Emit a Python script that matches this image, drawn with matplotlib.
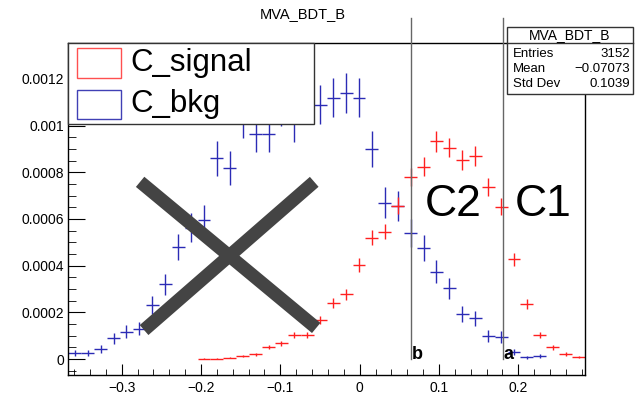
import numpy as np
import matplotlib.pyplot as plt
from matplotlib.patches import Rectangle
from matplotlib.ticker import MultipleLocator

plt.rcParams['font.family'] = ['Liberation Sans', 'DejaVu Sans']

# 40 bins between the BDT output min and max
x_lo, x_hi, nbins = -0.3673, 0.2841, 40

bkg = [0.000025, 0.000025, 0.0000415, 0.000089, 0.000117, 0.00013, 0.000232, 0.00032,
       0.000481, 0.000563, 0.000596, 0.00086, 0.000818, 0.00103, 0.000965, 0.000965,
       0.00108, 0.00101, 0.00111, 0.00109, 0.00112, 0.00114, 0.00112, 0.000899,
       0.00067, 0.000656, 0.000539, 0.000477, 0.000374, 0.000303, 0.000193, 0.000174,
       0.0000986, 0.0000956, 0.0000287, 0.0000073, 0.0000129, 0, 0, 0]
sig = [0, 0, 0, 0, 0, 0, 0, 0, 0, 0,
       0.0000015, 0.0000015, 0.0000057, 0.000013, 0.00002, 0.0000514, 0.0000672, 0.000103,
       0.000103, 0.000167, 0.000239, 0.000277, 0.000403, 0.00052, 0.000546, 0.000656,
       0.000779, 0.000824, 0.000932, 0.000906, 0.000853, 0.00087, 0.000736, 0.000653,
       0.000427, 0.000235, 0.000103, 0.00005, 0.0000214, 0.0000073]
# per-event weight used for the poisson errors
w_bkg = 6.5e-6
w_sig = 2.0e-6

cut_b = 0.0652
cut_a = 0.1812

edges = np.linspace(x_lo, x_hi, nbins + 1)
centers = 0.5 * (edges[1:] + edges[:-1])
bw = edges[1] - edges[0]

fig = plt.figure(figsize=(6.35, 4.01), dpi=100)
ax = fig.add_axes([0.1076, 0.0648, 0.8137, 0.8287])

bkg = np.array(bkg)
sig = np.array(sig)
mb = bkg > 0
ms = sig > 0
ax.errorbar(centers[mb], bkg[mb], xerr=bw / 2, yerr=np.sqrt(w_bkg * bkg[mb]),
            fmt='none', ecolor='#2b2bb5', elinewidth=1.0, capsize=0)
ax.errorbar(centers[ms], sig[ms], xerr=bw / 2, yerr=np.sqrt(w_sig * sig[ms]),
            fmt='none', ecolor='#ff2020', elinewidth=1.0, capsize=0)

ax.set_xlim(x_lo, x_hi)
ax.set_ylim(-0.0000686, 0.001355)

ax.xaxis.set_major_locator(MultipleLocator(0.1))
ax.xaxis.set_minor_locator(MultipleLocator(0.02))
ax.yaxis.set_major_locator(MultipleLocator(0.0002))
ax.yaxis.set_minor_locator(MultipleLocator(0.00005))
ax.set_xticks([-0.3, -0.2, -0.1, 0, 0.1, 0.2])
ax.set_xticklabels(['\u22120.3', '\u22120.2', '\u22120.1', '0', '0.1', '0.2'])
ax.set_yticks([0, 0.0002, 0.0004, 0.0006, 0.0008, 0.001, 0.0012])
ax.set_yticklabels(['0', '0.0002', '0.0004', '0.0006', '0.0008', '0.001', '0.0012'])
ax.tick_params(which='both', direction='in', top=False, right=False, labelsize=10)
ax.tick_params(axis='x', which='major', length=8, pad=4)
ax.tick_params(axis='x', which='minor', length=4)
ax.tick_params(axis='y', which='major', length=12, pad=3)
ax.tick_params(axis='y', which='minor', length=6)
for s in ax.spines.values():
    s.set_linewidth(1.0)

# cut lines
ytop = ax.transData.inverted().transform(fig.transFigure.transform((0, 1 - 18 / 401)))[1]
for xc, lab in [(cut_b, 'b'), (cut_a, 'a')]:
    ax.plot([xc, xc], [0, ytop], color='#666666', lw=1.0, clip_on=False, zorder=5)
    ax.text(xc + 0.0005, 0, lab, fontsize=13, fontweight='bold', ha='left', va='baseline')

ax.text(0.082, 0.00066, 'C2', fontsize=32, ha='left', va='center')
ax.text(0.195, 0.00066, 'C1', fontsize=32, ha='left', va='center')

# big grey cross
ax.plot([-0.2768, -0.0548], [0.000759, 0.000133], color='#444444', lw=9.5,
        solid_capstyle='butt', zorder=6)
ax.plot([-0.2718, -0.0573], [0.000124, 0.000759], color='#444444', lw=9.5,
        solid_capstyle='butt', zorder=6)

# legend box
W, H = 635, 401
def fx(px):
    return px / W
def fy(py):
    return 1 - py / H

fig.patches.append(Rectangle((fx(68.3), fy(124.3)), fx(314) - fx(68.3), fy(42.7) - fy(124.3),
                             transform=fig.transFigure, facecolor='white', edgecolor='#333333',
                             lw=1.0, zorder=10))
fig.patches.append(Rectangle((fx(77.3), fy(77.7)), fx(120.7) - fx(77.3), fy(48.3) - fy(77.7),
                             transform=fig.transFigure, facecolor='white', edgecolor='#ff5050',
                             lw=1.0, zorder=11))
fig.patches.append(Rectangle((fx(77.3), fy(119.3)), fx(120.7) - fx(77.3), fy(90) - fy(119.3),
                             transform=fig.transFigure, facecolor='white', edgecolor='#4040b5',
                             lw=1.0, zorder=11))
fig.text(fx(130), fy(63), 'C_signal', fontsize=22.5, va='center', ha='left', zorder=12)
fig.text(fx(130), fy(104), 'C_bkg', fontsize=22.5, va='center', ha='left', zorder=12)

# title
fig.text(fx(303), fy(14), 'MVA_BDT_B', fontsize=10.5, ha='center', va='center')

# stats box
fig.patches.append(Rectangle((fx(506.7), fy(94)), fx(633) - fx(506.7), fy(27.3) - fy(94),
                             transform=fig.transFigure, facecolor='white', edgecolor='#333333',
                             lw=1.0, zorder=10))
fig.lines.append(plt.Line2D([fx(506.7), fx(633)], [fy(42.7), fy(42.7)],
                            transform=fig.transFigure, color='#333333', lw=1.0, zorder=11))
fig.text(fx(570), fy(35), 'MVA_BDT_B', fontsize=10, ha='center', va='center', zorder=12)
rows = [('Entries', '3152'), ('Mean', '\u22120.07073'), ('Std Dev', '0.1039')]
for i, (k, v) in enumerate(rows):
    yy = fy(54 + i * 15)
    fig.text(fx(513), yy, k, fontsize=9.5, ha='left', va='center', zorder=12)
    fig.text(fx(630), yy, v, fontsize=9.5, ha='right', va='center', zorder=12)

fig.savefig('out.png', dpi=100)
